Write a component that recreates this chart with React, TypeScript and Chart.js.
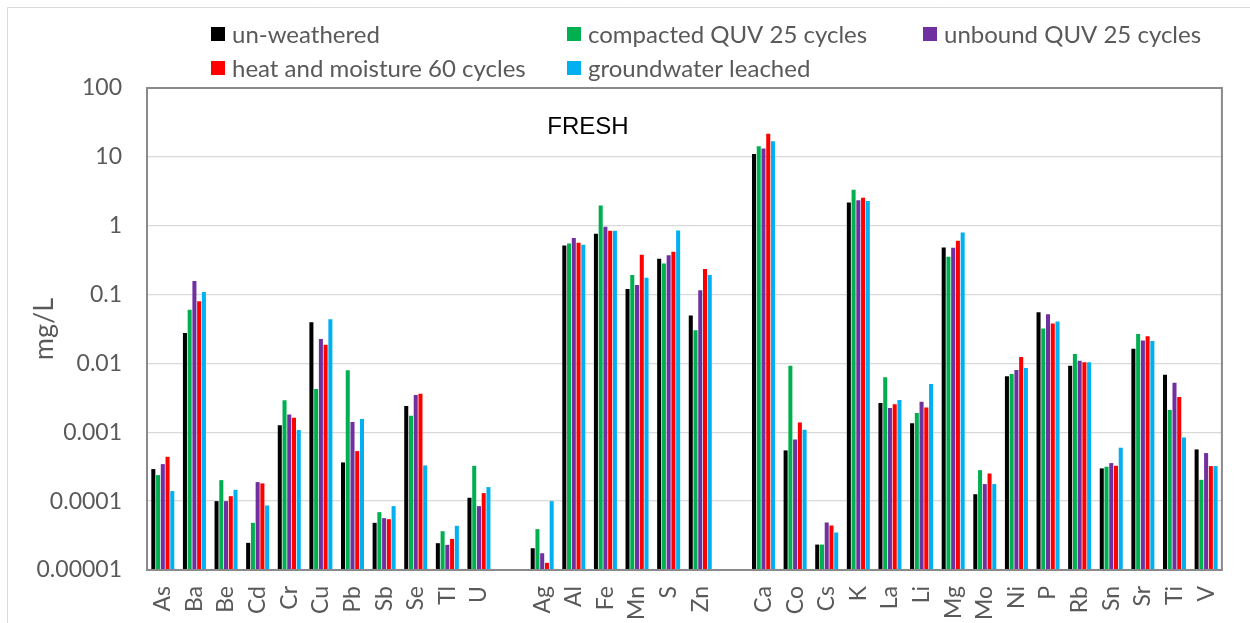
import React, { useEffect, useRef } from 'react';
import { Chart, registerables } from 'chart.js';

Chart.register(...registerables);

const categories = ['As', 'Ba', 'Be', 'Cd', 'Cr', 'Cu', 'Pb', 'Sb', 'Se', 'Tl', 'U', '', 'Ag', 'Al', 'Fe', 'Mn', 'S', 'Zn', '', 'Ca', 'Co', 'Cs', 'K', 'La', 'Li', 'Mg', 'Mo', 'Ni', 'P', 'Rb', 'Sn', 'Sr', 'Ti', 'V'];

const seriesNames = ['un-weathered', 'compacted QUV 25 cycles', 'unbound QUV 25 cycles', 'heat and moisture 60 cycles', 'groundwater leached'];
const seriesColors = ['#000000', '#00b050', '#7030a0', '#ff0000', '#00b0f0'];

const unWeathered = [2.92e-4, 0.0277, 1.0e-4, 2.48e-5, 1.27e-3, 0.0396, 3.65e-4, 4.84e-5, 2.41e-3, 2.45e-5, 1.12e-4, null, 2.07e-5, 0.516, 0.764, 0.120, 0.330, 0.0496, null, 11.0, 5.46e-4, 2.34e-5, 2.18, 2.66e-3, 1.35e-3, 0.483, 1.26e-4, 6.50e-3, 0.0554, 9.29e-3, 2.99e-4, 0.0164, 6.87e-3, 5.64e-4];
const compacted = [2.39e-4, 0.060, 2.02e-4, 4.84e-5, 2.91e-3, 4.25e-3, 7.94e-3, 6.92e-5, 1.74e-3, 3.66e-5, 3.26e-4, null, 3.92e-5, 0.552, 1.97, 0.193, 0.283, 0.0303, null, 14.2, 9.29e-3, 2.34e-5, 3.33, 6.28e-3, 1.90e-3, 0.353, 2.82e-4, 7.03e-3, 0.0321, 0.0137, 3.16e-4, 0.0268, 2.10e-3, 2.04e-4];
const unbound = [3.45e-4, 0.158, 1.0e-4, 1.89e-4, 1.82e-3, 0.0227, 1.41e-3, 5.66e-5, 3.48e-3, 2.32e-5, 8.46e-5, null, 1.75e-5, 0.661, 0.964, 0.138, 0.373, 0.116, null, 13.2, 7.88e-4, 4.90e-5, 2.35, 2.25e-3, 2.78e-3, 0.477, 1.77e-4, 8.04e-3, 0.0519, 0.0109, 3.57e-4, 0.0215, 5.26e-3, 4.99e-4];
const heatMoisture = [4.41e-4, 0.080, 1.18e-4, 1.81e-4, 1.63e-3, 0.0186, 5.33e-4, 5.47e-5, 3.64e-3, 2.83e-5, 1.31e-4, null, 1.27e-5, 0.565, 0.844, 0.378, 0.418, 0.236, null, 21.7, 1.39e-3, 4.43e-5, 2.55, 2.55e-3, 2.30e-3, 0.604, 2.52e-4, 0.0124, 0.0379, 0.0104, 3.26e-4, 0.0248, 3.25e-3, 3.23e-4];
const groundwater = [1.40e-4, 0.109, 1.46e-4, 8.65e-5, 1.08e-3, 0.0438, 1.56e-3, 8.46e-5, 3.30e-4, 4.38e-5, 1.60e-4, null, 1.0e-4, 0.528, 0.844, 0.175, 0.853, 0.193, null, 16.8, 1.09e-3, 3.50e-5, 2.28, 2.94e-3, 5.03e-3, 0.798, 1.77e-4, 8.59e-3, 0.0406, 0.0104, 5.97e-4, 0.0212, 8.43e-4, 3.23e-4];

const seriesValues = [unWeathered, compacted, unbound, heatMoisture, groundwater];

const yTickValues = [1e-5, 1e-4, 1e-3, 1e-2, 1e-1, 1, 10, 100];
const yTickLabels = ['0.00001', '0.0001', '0.001', '0.01', '0.1', '1', '10', '100'];

const yAxisTitle = 'mg/L';
const annotationText = 'FRESH';

const TEXT_GRAY = '#595959';
const FONT_FAMILY = 'Lato, "Noto Sans", sans-serif';

const framePlugin = {
  id: 'frame',
  beforeDraw(chart: any) {
    const { ctx, width, height } = chart;
    ctx.save();
    ctx.fillStyle = '#ffffff';
    ctx.fillRect(0, 0, width, height);
    ctx.strokeStyle = '#d9d9d9';
    ctx.lineWidth = 1;
    ctx.beginPath();
    ctx.moveTo(7.5, height + 5);
    ctx.lineTo(7.5, 7.5);
    ctx.lineTo(width + 5, 7.5);
    ctx.stroke();
    ctx.restore();
  },
  afterDatasetsDraw(chart: any) {
    const { ctx, chartArea } = chart;
    ctx.save();
    ctx.strokeStyle = '#8a8a8a';
    ctx.lineWidth = 2;
    ctx.strokeRect(chartArea.left, chartArea.top, chartArea.right - chartArea.left, chartArea.bottom - chartArea.top);
    ctx.restore();
  },
};

const legendPlugin = {
  id: 'gridLegend',
  afterDraw(chart: any) {
    const { ctx } = chart;
    const colX = [211, 567, 923];
    const rowY = [34, 68];
    const box = 14;
    ctx.save();
    ctx.font = `24px ${FONT_FAMILY}`;
    ctx.textBaseline = 'middle';
    ctx.textAlign = 'left';
    chart.data.datasets.forEach((ds: any, i: number) => {
      const x = colX[i % 3];
      const y = rowY[Math.floor(i / 3)];
      ctx.fillStyle = ds.backgroundColor;
      ctx.fillRect(x, y - box / 2, box, box);
      ctx.fillStyle = TEXT_GRAY;
      ctx.fillText(ds.label, x + box + 7, y + 1);
    });
    ctx.restore();
  },
};

const annotationPlugin = {
  id: 'annotationText',
  afterDraw(chart: any) {
    const { ctx, chartArea } = chart;
    ctx.save();
    ctx.font = '24px "Liberation Sans", Arial, sans-serif';
    ctx.fillStyle = '#000000';
    ctx.textAlign = 'center';
    ctx.textBaseline = 'middle';
    ctx.fillText(annotationText, chartArea.left + 441, chartArea.top + 39);
    ctx.restore();
  },
};

export default function App() {
  const canvasRef = useRef<HTMLCanvasElement | null>(null);

  useEffect(() => {
    if (!canvasRef.current) return;
    const chart = new Chart(canvasRef.current, {
      type: 'bar',
      data: {
        labels: categories,
        datasets: seriesNames.map((name, i) => ({
          label: name,
          data: seriesValues[i],
          backgroundColor: seriesColors[i],
          borderWidth: 0,
          categoryPercentage: 0.75,
          barPercentage: 0.85,
        })),
      },
      options: {
        animation: false,
        responsive: true,
        maintainAspectRatio: false,
        layout: { padding: { top: 88, left: 0, right: 20, bottom: 0 } },
        plugins: {
          legend: { display: false },
          tooltip: { enabled: false },
        },
        scales: {
          x: {
            type: 'category',
            grid: { display: false, drawTicks: false },
            border: { display: false },
            ticks: {
              autoSkip: false,
              minRotation: 90,
              maxRotation: 90,
              padding: 16,
              color: TEXT_GRAY,
              font: { family: FONT_FAMILY, size: 23 },
            },
            afterFit(scale: any) {
              scale.height = 53;
            },
          },
          y: {
            type: 'logarithmic',
            min: 1e-5,
            max: 100,
            grid: { color: '#d9d9d9', lineWidth: 1.3, drawTicks: false },
            border: { display: false },
            title: {
              display: true,
              text: yAxisTitle,
              color: TEXT_GRAY,
              font: { family: FONT_FAMILY, size: 27 },
              padding: { top: 28, bottom: 0 },
            },
            ticks: {
              padding: 25,
              color: TEXT_GRAY,
              font: { family: FONT_FAMILY, size: 23 },
              callback: (_v: any, index: number) => yTickLabels[index],
            },
            afterBuildTicks(scale: any) {
              scale.ticks = yTickValues.map((v) => ({ value: v }));
            },
            afterFit(scale: any) {
              scale.width = 147;
            },
          },
        },
      } as any,
      plugins: [framePlugin, legendPlugin, annotationPlugin],
    });
    return () => chart.destroy();
  }, []);

  return (
    <div style={{ position: 'absolute', left: 0, top: 0, width: 1250, height: 623 }}>
      <canvas ref={canvasRef} />
    </div>
  );
}
